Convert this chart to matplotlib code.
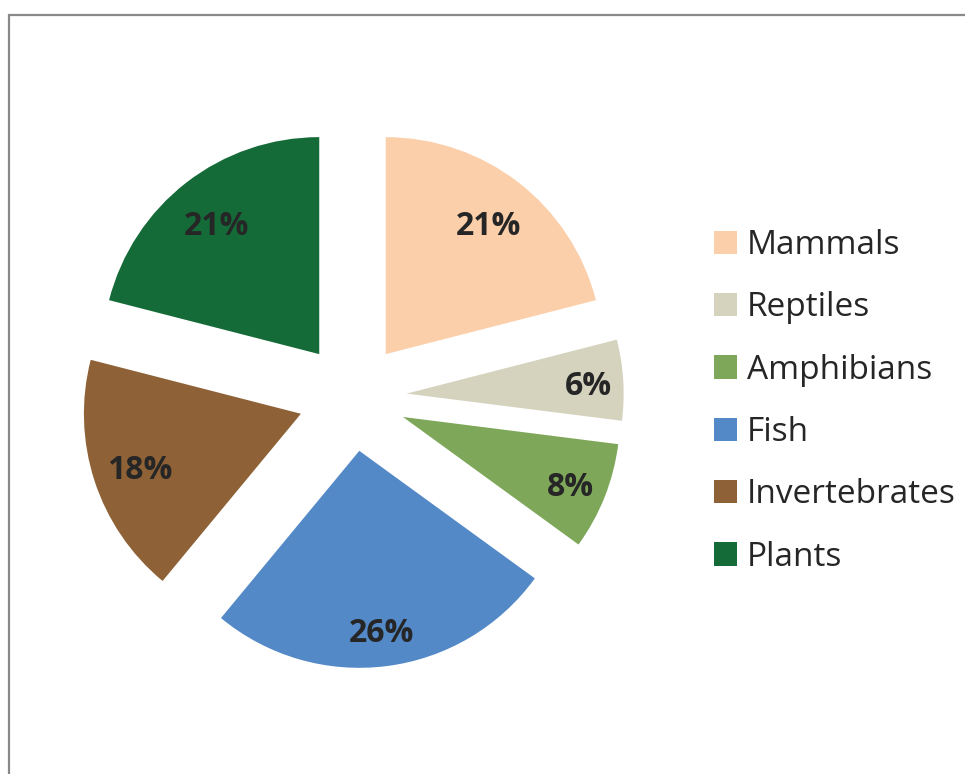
import matplotlib
matplotlib.use("Agg")
import matplotlib.pyplot as plt
from matplotlib.patches import Rectangle
import math

categories = ["Mammals", "Reptiles", "Amphibians", "Fish", "Invertebrates", "Plants"]
values = [21, 6, 8, 26, 18, 21]
colors = ["#FBCFAA", "#D5D2BE", "#7FA75A", "#5489C8", "#8E6236", "#156B38"]
label_dist = [0.77, 0.84, 0.83, 0.83, 0.78, 0.77]

W, H = 965, 774
fig = plt.figure(figsize=(W / 100, H / 100), dpi=100)
ax = fig.add_axes([0, 0, 1, 1])

cx, cy, R = 352.5, H - 397, 217
wedges, texts, autotexts = ax.pie(
    values, colors=colors, startangle=90, counterclock=False,
    explode=[0.25 * R] * len(values), center=(cx, cy), radius=R,
    autopct=lambda p: f"{p:.0f}%", pctdistance=0.8,
    textprops=dict(fontsize=23, fontweight="bold", color="#262626", family="Open Sans"),
    wedgeprops=dict(linewidth=0), frame=True)
ax.set_xlim(0, W)
ax.set_ylim(0, H)
ax.axis("off")

for w, t, d in zip(wedges, autotexts, label_dist):
    mid = math.radians((w.theta1 + w.theta2) / 2)
    ox, oy = w.center
    t.set_position((ox + d * R * math.cos(mid), oy + d * R * math.sin(mid) - 4))

leg = ax.legend(wedges, categories, loc="upper left", bbox_to_anchor=(714 / W, 1 - 229 / H),
                bbox_transform=fig.transFigure, frameon=False,
                prop=dict(family="Open Sans", size=24), handlelength=0.7, handleheight=0.7,
                handletextpad=0.28, labelspacing=0.88, borderaxespad=0, borderpad=0)
for txt in leg.get_texts():
    txt.set_color("#262626")

fig.patches.append(Rectangle((9 / W, -0.1), 1.2, (H - 15) / H + 0.1, transform=fig.transFigure,
                             fill=False, edgecolor="#898989", linewidth=1.6))

fig.savefig("out.png", dpi=100, facecolor="white")
